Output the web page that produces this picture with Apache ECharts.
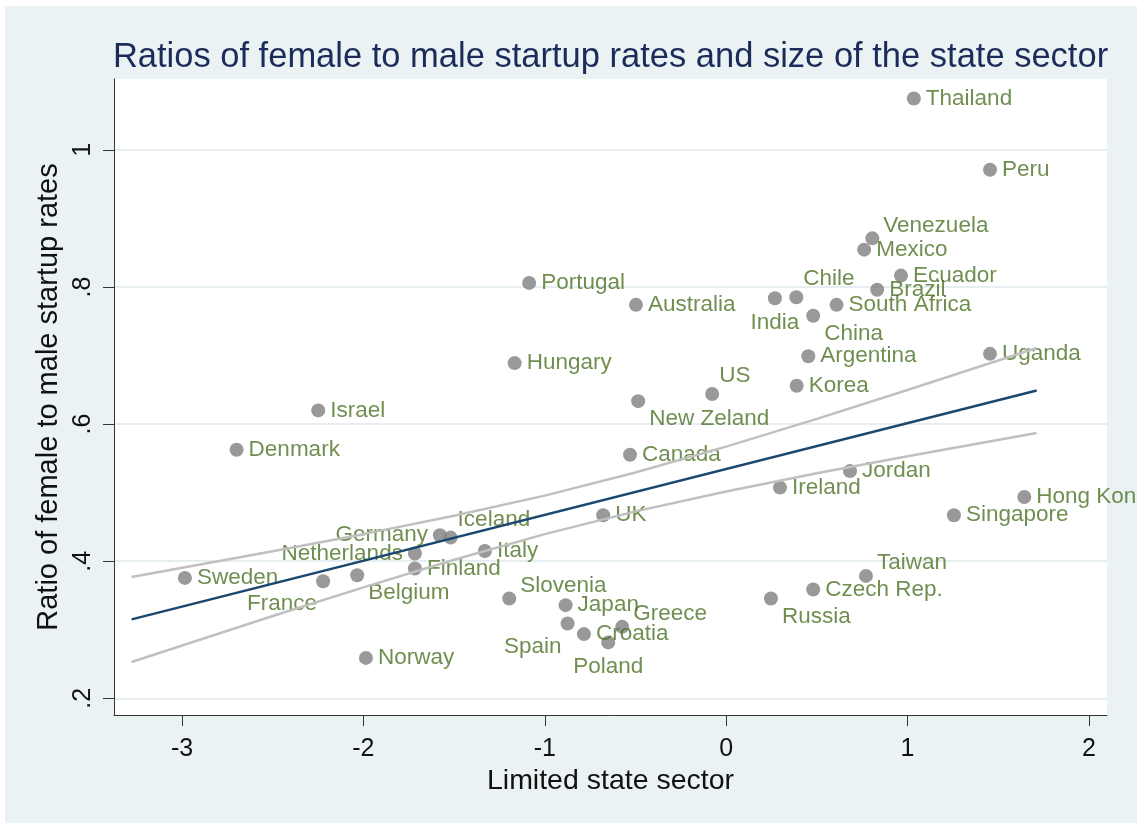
<!DOCTYPE html>
<html><head><meta charset="utf-8">
<script src="https://cdn.jsdelivr.net/npm/echarts@6/dist/echarts.min.js"></script>
<style>html,body{margin:0;padding:0;background:#fff;} #c{position:absolute;left:5px;top:6px;width:1132px;height:817px;}</style>
</head><body><div id="c"></div>
<script>
const countries = ['Thailand','Peru','Venezuela','Mexico','Ecuador','Brazil','Chile','India','South Africa','China',
  'Portugal','Australia','Hungary','Argentina','Uganda','Korea','US','New Zeland','Israel','Denmark',
  'Canada','Jordan','Ireland','Hong Kong','Singapore','UK','Germany','Iceland','Italy','Netherlands',
  'Finland','Sweden','France','Belgium','Taiwan','Czech Rep.','Slovenia','Russia','Japan','Greece',
  'Spain','Croatia','Poland','Norway'];
const xValues = [1.035,1.455,0.806,0.761,0.964,0.833,0.387,0.269,0.609,0.480,
  -1.086,-0.497,-1.166,0.453,1.455,0.389,-0.077,-0.485,-2.249,-2.699,
  -0.530,0.683,0.297,1.644,1.256,-0.678,-1.578,-1.519,-1.330,-1.716,
  -1.716,-2.984,-2.222,-2.034,0.771,0.480,-1.196,0.247,-0.885,-0.573,
  -0.874,-0.784,-0.650,-1.986];
const yValues = [1.075,0.971,0.871,0.8545,0.8166,0.796,0.785,0.7835,0.774,0.758,
  0.806,0.774,0.689,0.699,0.7025,0.656,0.644,0.6335,0.620,0.5627,
  0.5554,0.5315,0.5074,0.4937,0.467,0.467,0.4379,0.4345,0.415,0.4112,
  0.3894,0.3757,0.3709,0.3796,0.3786,0.3588,0.3457,0.3457,0.3359,0.3043,
  0.3092,0.2937,0.2816,0.259];
// marker-label clock positions (Stata mlabvposition)
const labelClock = [3,3,2,3,3,3,1,6,3,5,
  3,3,3,3,3,3,1,5,3,3,
  3,3,3,3,3,3,9,1,3,9,
  3,3,7,5,2,3,2,5,3,2,
  7,3,6,3];
const xTicks = [-3,-2,-1,0,1,2];
const yTicks = [0.2,0.4,0.6,0.8,1];
const yTickLabels = ['.2','.4','.6','.8','1'];
const fitX = [-3.278, 1.712];
const fitY = [0.3152, 0.649];
const ciX = [-3.278,-2.5,-2,-1.5,-1,-0.5,0,0.5,1,1.712];
const ciUpper = [0.377,0.4145,0.4395,0.4662,0.4957,0.5295,0.5672,0.6077,0.6497,0.711];
const ciLower = [0.253,0.3201,0.3619,0.4022,0.4395,0.4727,0.5018,0.5283,0.5531,0.587];

const FONT = "'Liberation Sans', Arial, sans-serif";
const clockStyle = {
  3: {align:'left', offset:[12,0]},
  2: {align:'left', offset:[11,-13]},
  1: {align:'left', offset:[7,-18]},
  5: {align:'left', offset:[11,18]},
  6: {align:'center', offset:[0,24]},
  7: {align:'right', offset:[-6,23]},
  9: {align:'right', offset:[-12,0]}
};
const scatterData = countries.map((n,i)=>{
  const s = clockStyle[labelClock[i]];
  return {name:n, value:[xValues[i], yValues[i]],
    label:{position:'inside', align:s.align, verticalAlign:'middle', offset:s.offset}};
});
const pairs = (xs, ys) => xs.map((x,i)=>[x, ys[i]]);

const chart = echarts.init(document.getElementById('c'), null, {renderer:'canvas'});
chart.setOption({
  animation:false,
  backgroundColor:'#eaf2f3',
  textStyle:{fontFamily:FONT},
  title:{text:'Ratios of female to male startup rates and size of the state sector',
    left:605.5, top:34, padding:0, textAlign:'center',
    textStyle:{fontSize:34.5, fontWeight:'normal', color:'#1c2c5a', fontFamily:FONT}},
  grid:{left:109, top:73, right:30, bottom:108, show:true, backgroundColor:'#fff', borderWidth:0},
  xAxis:{type:'value', min:-3.375, max:2.1,
    name:'Limited state sector', nameLocation:'middle', nameGap:49,
    nameTextStyle:{fontSize:28.5, color:'#111', fontFamily:FONT},
    axisLine:{show:true, onZero:false, lineStyle:{color:'#333', width:1}},
    axisTick:{show:true, length:11, customValues:xTicks, lineStyle:{color:'#333', width:1}},
    axisLabel:{customValues:xTicks, margin:22, fontSize:25, color:'#111', fontFamily:FONT},
    splitLine:{show:false}},
  yAxis:{type:'value', min:0.1757, max:1.1034,
    name:'Ratio of female to male startup rates', nameLocation:'middle', nameGap:44,
    nameTextStyle:{fontSize:29, color:'#111', fontFamily:FONT},
    axisLine:{show:true, onZero:false, lineStyle:{color:'#333', width:1}},
    axisTick:{show:true, length:11, customValues:yTicks, lineStyle:{color:'#333', width:1}},
    axisLabel:{customValues:yTicks, rotate:90, margin:18, fontSize:25, color:'#111', fontFamily:FONT,
      formatter:(v)=>{const k=yTicks.findIndex(t=>Math.abs(t-v)<1e-6); return k>=0?yTickLabels[k]:'';}},
    splitLine:{show:true, lineStyle:{color:'#e6eef1', width:2}}},
  series:[
    {type:'scatter', data:scatterData, symbol:'circle', symbolSize:14, z:2,
      itemStyle:{color:'#7f7f7f'},
      label:{show:true, formatter:'{b}', fontSize:22.5, color:'#4b7224', fontFamily:FONT}},
    {type:'line', data:pairs(ciX, ciUpper), showSymbol:false, symbol:'none', z:3,
      lineStyle:{color:'#c0c0c0', width:2.5}},
    {type:'line', data:pairs(ciX, ciLower), showSymbol:false, symbol:'none', z:3,
      lineStyle:{color:'#c0c0c0', width:2.5}},
    {type:'line', data:pairs(fitX, fitY), showSymbol:false, symbol:'none', z:4,
      lineStyle:{color:'#1a476f', width:2.5}}
  ]
});
</script></body></html>
